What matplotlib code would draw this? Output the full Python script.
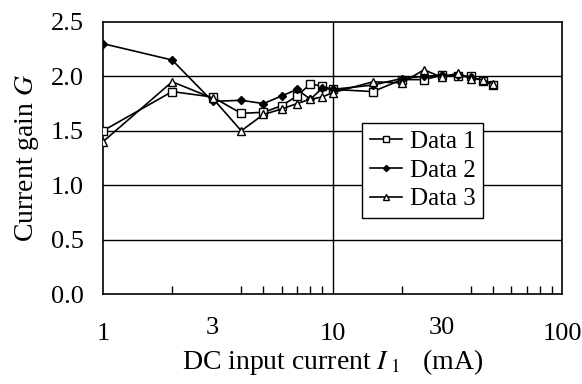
import numpy as np
import matplotlib
matplotlib.use("Agg")
import matplotlib.pyplot as plt
from matplotlib.ticker import FixedLocator, NullFormatter
import matplotlib.transforms as mtrans

plt.rcParams['font.family'] = ['Liberation Serif', 'DejaVu Serif']
plt.rcParams['mathtext.fontset'] = 'stix'

# data
x1 = [1, 2, 3, 4, 5, 6, 7, 8, 9, 10, 15, 20, 25, 30, 35, 40, 45, 50]
g1 = [1.50, 1.86, 1.81, 1.66, 1.67, 1.73, 1.82, 1.93, 1.91, 1.88, 1.86, 1.97, 1.97, 2.01, 2.00, 2.00, 1.96, 1.92]

x2 = [1, 2, 3, 4, 5, 6, 7, 8, 9, 10, 15, 20, 25, 30, 35, 40]
g2 = [2.30, 2.15, 1.77, 1.78, 1.75, 1.82, 1.88, 1.79, 1.89, 1.88, 1.92, 1.98, 2.00, 2.01, 2.01, 1.99]

x3 = [1, 2, 3, 4, 5, 6, 7, 8, 9, 10, 15, 20, 25, 30, 35, 40, 45, 50]
g3 = [1.40, 1.95, 1.80, 1.50, 1.65, 1.70, 1.75, 1.79, 1.81, 1.85, 1.95, 1.94, 2.06, 1.99, 2.03, 1.98, 1.97, 1.93]

xticks = [1, 3, 10, 30, 100]
xticklabels = ["1", "3", "10", "30", "100"]
yticks = [0.0, 0.5, 1.0, 1.5, 2.0, 2.5]

fig = plt.figure(figsize=(5.82, 3.84), dpi=100)
ax = fig.add_axes([0.177, 0.234, 0.789, 0.709])

ax.plot(x1, g1, color='black', lw=1.2, marker='s', ms=5.5, mfc='white', mec='black', mew=1.0, label='Data 1', zorder=3)
ax.plot(x2, g2, color='black', lw=1.2, marker='D', ms=4.5, mfc='black', mec='black', label='Data 2', zorder=3)
ax.plot(x3, g3, color='black', lw=1.2, marker='^', ms=6, mfc='white', mec='black', mew=1.0, label='Data 3', zorder=3)

ax.set_xscale('log')
ax.set_xlim(1, 100)
ax.set_ylim(0, 2.5)

ax.xaxis.set_major_locator(FixedLocator(xticks))
ax.set_xticklabels(xticklabels)
minors = [v * d for d in (1, 10) for v in range(2, 10)]
ax.xaxis.set_minor_locator(FixedLocator(minors))
ax.xaxis.set_minor_formatter(NullFormatter())
ax.tick_params(axis='x', which='major', length=0, pad=21, labelsize=19)
ax.tick_params(axis='x', which='minor', direction='in', length=6, width=1.0)
ax.set_yticks(yticks)
ax.set_yticklabels([f"{v:.1f}" for v in yticks])
ax.tick_params(axis='y', length=0, pad=14, labelsize=19)

# 3 and 30 sit a little higher in the reference
for lab, t in zip(ax.get_xticklabels(), xticks):
    if t in (3, 30):
        lab.set_transform(lab.get_transform() + mtrans.ScaledTranslation(0, 6 / 100, fig.dpi_scale_trans))

for v in yticks[1:-1]:
    ax.axhline(v, color='black', lw=1.0, zorder=1)
ax.axvline(10, color='black', lw=1.0, zorder=1)

for s in ax.spines.values():
    s.set_linewidth(1.2)

ax.set_ylabel(r"Current gain $\mathit{G}$", fontsize=20, labelpad=7)
ax.set_xlabel(r"DC input current $\mathit{I}_{\ 1}$   (mA)", fontsize=20, labelpad=1)

leg = ax.legend(loc='upper left', bbox_to_anchor=(0.564, 0.629), fontsize=18, frameon=True,
                fancybox=False, edgecolor='black', handlelength=1.3, handletextpad=0.3,
                borderpad=0.3, labelspacing=0.25, borderaxespad=0, markerscale=0.7)
leg.get_frame().set_linewidth(1.0)
leg.get_frame().set_alpha(1)

fig.savefig("out.png", dpi=100)
